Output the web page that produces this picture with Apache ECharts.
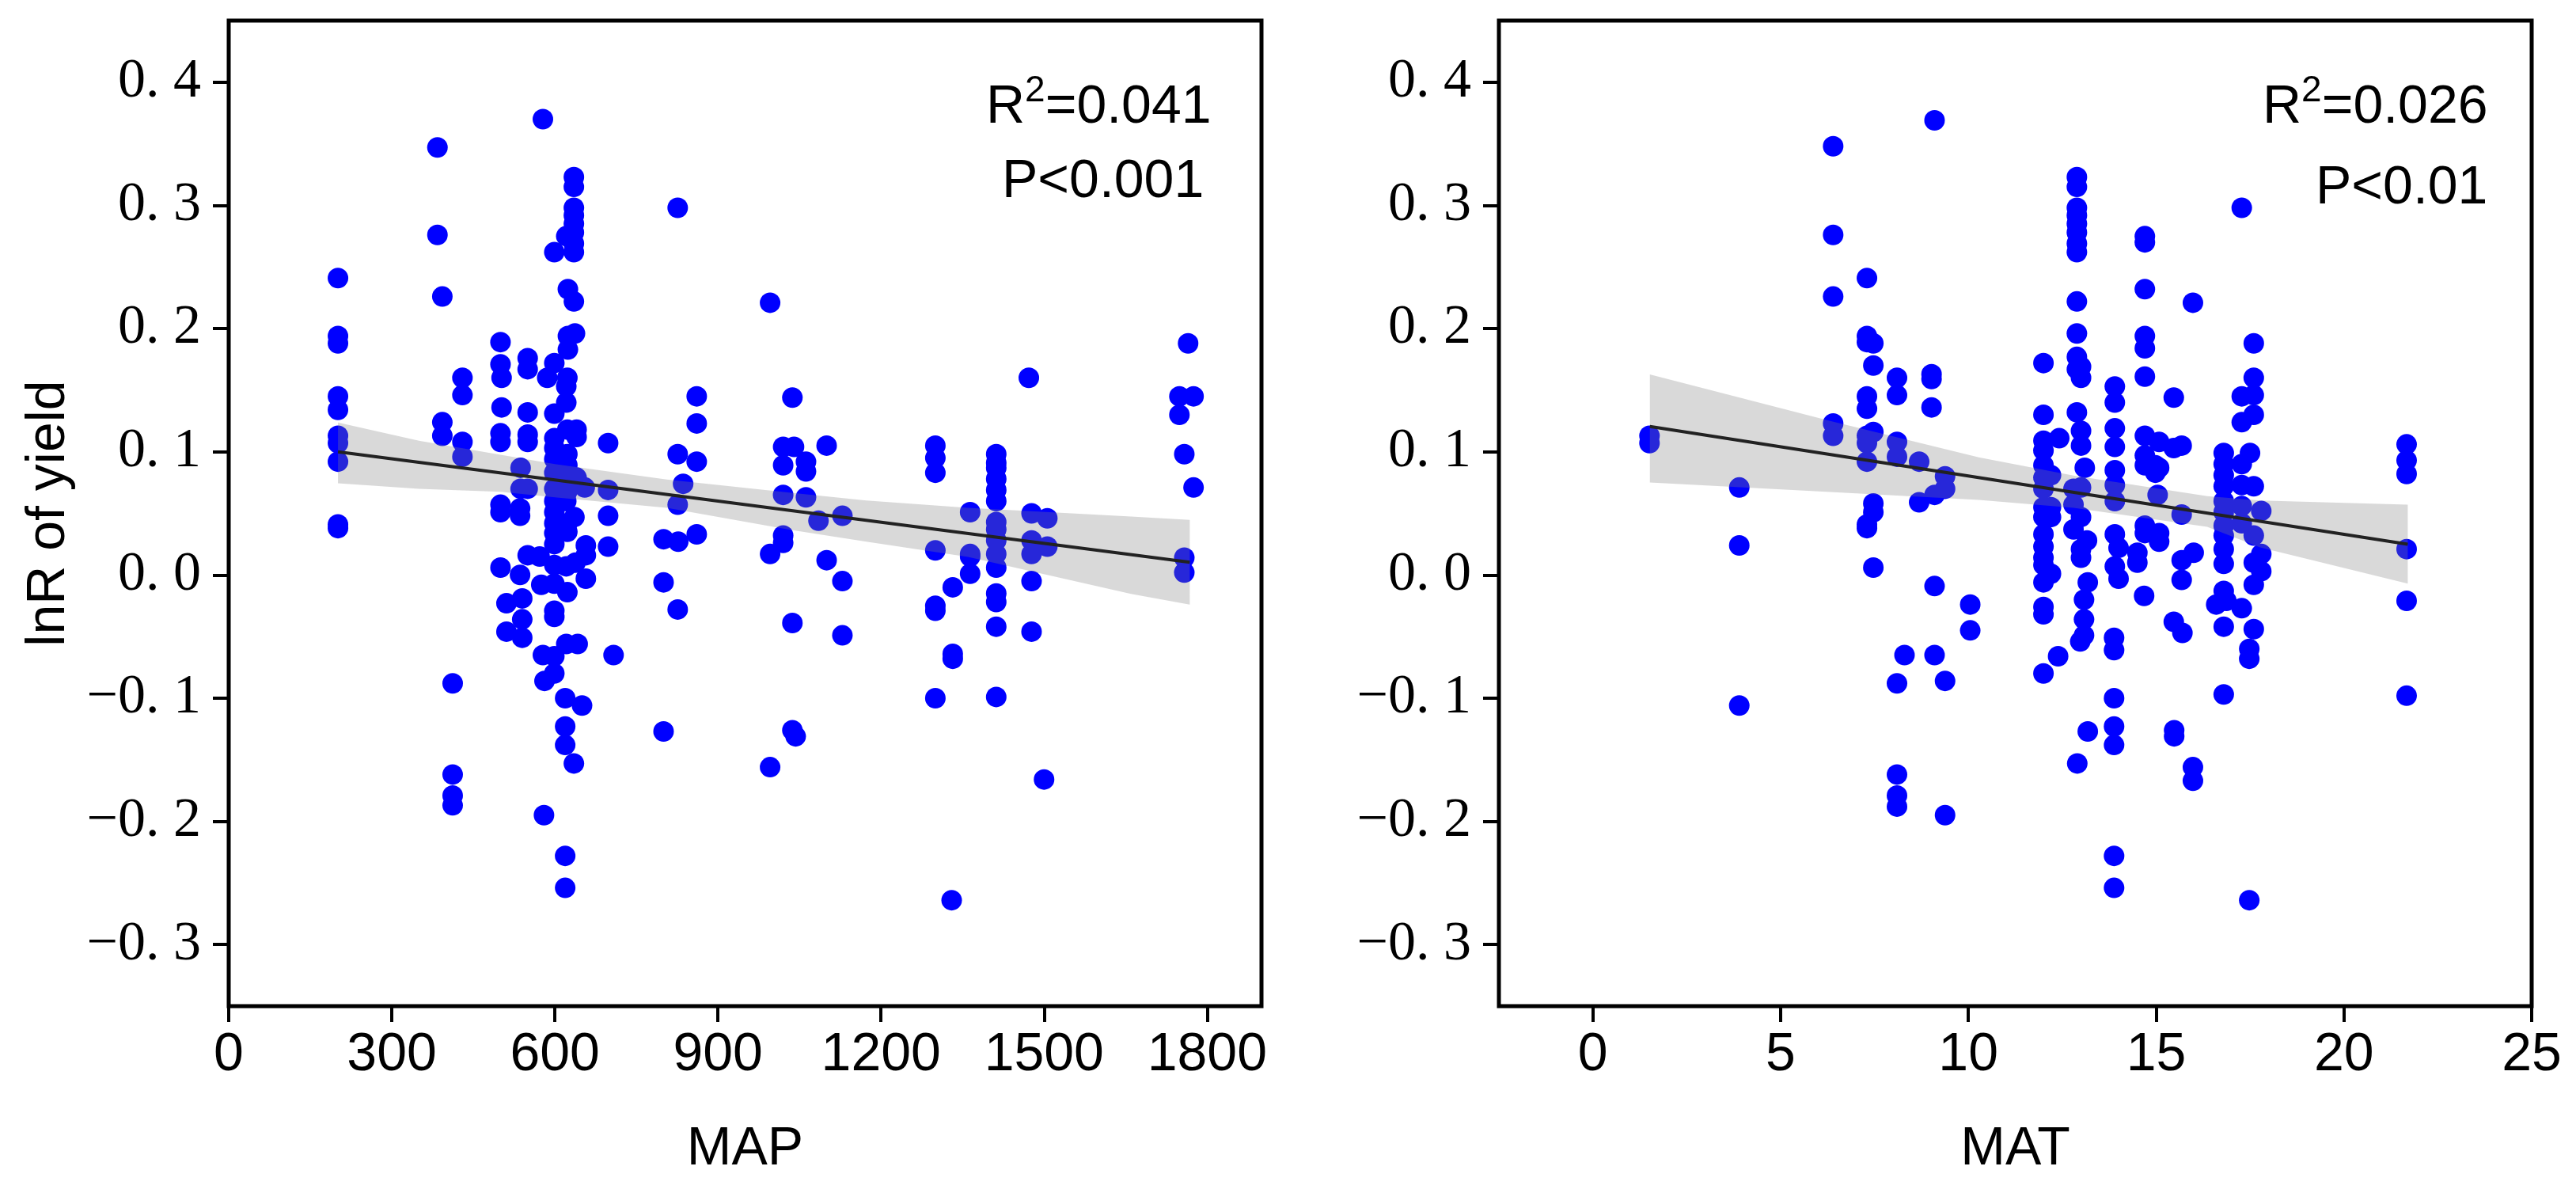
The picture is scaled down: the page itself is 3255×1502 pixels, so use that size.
<!DOCTYPE html>
<html>
<head>
<meta charset="utf-8">
<title>lnR of yield vs MAP and MAT</title>
<script src="https://cdn.jsdelivr.net/npm/echarts@6/dist/echarts.min.js"></script>
<style>
  html, body { margin: 0; padding: 0; background: #fff; }
  #chart { width: 3255px; height: 1502px; }
</style>
</head>
<body>
<div id="chart"></div>
<script>
// 刻度
var yTicks = [-0.3, -0.2, -0.1, 0, 0.1, 0.2, 0.3, 0.4];
var mapTicks = [0, 300, 600, 900, 1200, 1500, 1800];
var matTicks = [0, 5, 10, 15, 20, 25];

// MAP 散点 [x, lnR]
var mapPoints = [
  [201,.241],[201,.194],[201,.188],[201,.145],[201,.134],[201,.113],[201,.107],[201,.092],[201,.041],[201,.038],
  [384,.347],[384,.276],[393,.226],[393,.124],[393,.113],
  [412,-.088],[412,-.162],[412,-.179],[412,-.187],
  [430,.160],[430,.146],[430,.108],[430,.096],
  [500,.189],[500,.171],[500,.115],[500,.108],[500,.057],[500,.051],[500,.006],[502,.160],[502,.136],
  [511,-.023],[511,-.046],[540,-.019],[540,-.036],[540,-.051],
  [537,.087],[537,.070],[536,.054],[536,.048],[536,0],
  [550,.176],[550,.167],[550,.132],[550,.114],[550,.108],[550,.016],[550,.070],
  [572,.015],[575,-.008],[578,.370],[578,-.065],[581,-.086],[580,-.195],
  [586,.160],[599,.172],[599,.262],[599,.131],[599,.111],[599,.103],[599,.094],[599,.083],[599,.070],[599,.060],
  [599,.051],[599,.042],[599,.034],[599,.025],[599,.008],[599,-.007],[599,-.029],[599,-.034],[599,-.066],[599,-.080],
  [612,.066],[612,.080],[621,.275],[621,.153],[621,.140],[623,.160],[624,.232],[624,.194],[624,.183],
  [623,.118],[623,.098],[623,.089],[623,.068],[621,.060],[623,.042],[623,.035],[621,.007],
  [619,-.100],[619,-.123],[619,-.138],[619,-.228],[619,-.254],[621,-.056],[623,-.014],
  [635,.323],[635,.315],[635,.298],[635,.292],[635,.285],[635,.278],[635,.269],[635,.262],[635,.222],[637,.196],
  [635,-.153],[640,.118],[640,.112],[640,.079],[636,.047],[638,.010],
  [642,-.056],[650,-.106],[655,.071],[657,.024],[657,.016],[657,-.003],
  [698,.107],[698,.069],[698,.048],[698,.023],[708,-.065],
  [800,.029],[800,-.006],[800,-.127],[826,.298],[826,.098],[826,.057],[826,-.028],[827,.027],[836,.074],
  [861,.145],[861,.123],[861,.092],[861,.033],
  [996,.221],[996,.017],[996,-.156],[1020,.104],[1020,.089],[1020,.065],[1020,.032],[1020,.026],
  [1037,.144],[1037,-.039],[1037,-.126],[1043,-.131],[1040,.104],
  [1062,.092],[1062,.084],[1062,.063],[1085,.044],[1100,.105],[1100,.012],
  [1129,.048],[1129,-.005],[1129,-.049],
  [1300,.105],[1300,.095],[1300,.083],[1300,.020],[1300,-.025],[1300,-.029],[1300,-.100],
  [1332,-.010],[1332,-.064],[1332,-.068],[1330,-.264],
  [1364,.051],[1364,.017],[1364,.015],[1364,.001],
  [1412,.098],[1412,.091],[1412,.087],[1412,.078],[1412,.069],[1412,.060],[1412,.043],[1412,.037],[1412,.028],[1412,.017],[1412,.006],
  [1412,-.015],[1412,-.022],[1412,-.042],[1412,-.099],
  [1472,.160],[1477,.050],[1477,.028],[1477,.017],[1477,-.005],[1477,-.046],
  [1506,.046],[1506,.023],[1500,-.166],
  [1749,.145],[1749,.130],[1758,.098],[1758,.014],[1758,.002],[1775,.145],[1775,.071],[1765,.188]
];

// MAT 散点 [x, lnR]
var matPoints = [
  [1.51,.113],[1.51,.107],[3.9,.071],[3.9,.024],[3.9,-.106],
  [6.4,.348],[6.4,.276],[6.4,.226],[6.4,.123],[6.4,.113],
  [7.3,.241],[7.3,.194],[7.3,.189],[7.3,.145],[7.3,.135],[7.3,.113],[7.3,.107],[7.3,.092],[7.3,.041],[7.3,.038],
  [7.47,.188],[7.47,.170],[7.47,.116],[7.47,.058],[7.47,.051],[7.47,.006],
  [8.1,.160],[8.1,.146],[8.1,.108],[8.1,.096],[8.1,-.088],[8.1,-.162],[8.1,-.179],[8.1,-.188],[8.3,-.065],
  [8.69,.092],[8.69,.059],[9.02,.163],[9.02,.159],[9.02,.136],
  [9.1,.369],[9.1,.065],[9.1,-.009],[9.1,-.065],[9.38,.080],[9.38,.070],[9.38,-.086],[9.38,-.195],
  [10.05,-.024],[10.05,-.045],
  [12,.172],[12,.130],[12,.109],[12,.101],[12,.089],[12,.079],[12,.070],[12,.055],[12,.047],[12,.033],[12,.023],[12,.014],[12,.008],[12,-.006],[12,-.026],[12,-.032],[12,-.080],
  [12.42,.111],[12.2,.055],[12.2,.047],[12.2,.001],[12.2,.081],[12.39,-.066],
  [12.89,.323],[12.89,.315],[12.89,.298],[12.89,.292],[12.89,.285],[12.89,.278],[12.89,.269],[12.89,.262],[12.89,.222],[12.89,.196],
  [12.89,.177],[12.89,.167],[12.89,.132],[12.9,-.153],[12.8,.070],[12.8,.057],[12.8,.037],
  [13,.169],[13,.160],[13,.117],[13,.105],[13,.071],[13,.047],[13,.021],[13,.014],[12.98,-.054],
  [13.1,.087],[13.16,.028],[13.18,-.006],[13.08,-.020],[13.08,-.036],[13.08,-.049],[13.18,-.127],
  [13.9,.153],[13.9,.140],[13.9,.119],[13.9,.104],[13.9,.085],[13.9,.073],[13.9,.060],[13.9,.033],[13.9,.007],[14,.022],[14,-.003],
  [13.88,-.051],[13.88,-.061],[13.88,-.100],[13.88,-.123],[13.88,-.138],[13.88,-.228],[13.88,-.254],
  [14.5,.018],[14.5,.010],[14.68,-.017],
  [14.7,.275],[14.7,.270],[14.7,.232],[14.7,.194],[14.7,.184],[14.7,.161],[14.7,.113],[14.7,.097],[14.7,.089],[14.7,.040],[14.7,.034],
  [15.08,.108],[15.08,.087],[15.08,.034],[15.08,.027],[15.04,.065],[14.98,.089],[14.98,.083],
  [15.47,.144],[15.47,.103],[15.47,-.038],[15.48,-.126],[15.48,-.131],
  [15.68,.105],[15.68,.049],[15.68,.012],[15.68,-.004],[15.7,-.047],
  [16,.018],[15.98,.221],[15.98,-.156],[15.98,-.167],
  [16.8,.099],[16.8,.090],[16.8,.081],[16.8,.072],[16.8,.060],[16.8,.051],[16.8,.040],[16.8,.032],[16.8,.021],[16.8,.009],[16.8,-.013],[16.8,-.042],[16.8,-.097],
  [16.6,-.024],[16.87,-.021],
  [17.28,.298],[17.28,.145],[17.28,.124],[17.28,.090],[17.28,.073],[17.28,.056],[17.28,.042],[17.28,-.027],
  [17.5,.099],[17.48,-.060],[17.48,-.068],[17.48,-.264],
  [17.6,.188],[17.6,.160],[17.6,.146],[17.6,.130],[17.6,.072],[17.6,.032],[17.6,.010],[17.6,-.008],[17.6,-.044],
  [17.8,.052],[17.8,.017],[17.8,.003],
  [21.67,.106],[21.67,.093],[21.67,.082],[21.67,.021],[21.67,-.021],[21.67,-.098]
];

// 回归线与置信带
var mapFitX = [201, 1768];
var mapFitY = [0.100, 0.0103];
var mapBandX = [201, 350, 500, 600, 806, 1035, 1173, 1360, 1660, 1768];
var mapBandUpper = [.1237, .109, .0975, .090, .0775, .0667, .0605, .0545, .0475, .0447];
var mapBandLower = [.0744, .070, .0675, .063, .0545, .0365, .027, .0147, -.0154, -.024];

var matFitX = [1.52, 21.7];
var matFitY = [0.1205, 0.025];
var matBandX = [1.52, 6.32, 10.28, 12.8, 16.36, 17.77, 21.7];
var matBandUpper = [.1628, .125, .0955, .0807, .064, .0605, .057];
var matBandLower = [.075, .0673, .061, .0545, .039, .0224, -.007];

function yLabel(v) {
  return v.toFixed(1).replace('.', '. ').replace('-', '\u2212');
}

function xAxisOf(gridIndex, min, max, ticks, name) {
  return {
    type: 'value', gridIndex: gridIndex, min: min, max: max,
    name: name, nameLocation: 'middle', nameGap: 147,
    nameTextStyle: { fontFamily: 'Liberation Sans', fontSize: 68, color: '#000' },
    splitLine: { show: false },
    axisLine: { show: false, onZero: false },
    axisTick: { show: true, length: 20, customValues: ticks, lineStyle: { color: '#000', width: 4 } },
    axisLabel: { customValues: ticks, margin: 28, formatter: String, fontFamily: 'Liberation Sans', fontSize: 68, color: '#000' }
  };
}

function yAxisOf(gridIndex, name) {
  return {
    type: 'value', gridIndex: gridIndex, min: -0.35, max: 0.45,
    name: name, nameLocation: 'middle', nameGap: 193, nameRotate: 90,
    nameTextStyle: { fontFamily: 'Liberation Sans', fontSize: 68, color: '#000' },
    splitLine: { show: false },
    axisLine: { show: false, onZero: false },
    axisTick: { show: true, length: 20, customValues: yTicks, lineStyle: { color: '#000', width: 4 } },
    axisLabel: { customValues: yTicks, margin: 35, formatter: yLabel, fontFamily: 'Liberation Serif', fontSize: 70, color: '#000' }
  };
}

function scatterOf(index, points) {
  return {
    type: 'scatter', xAxisIndex: index, yAxisIndex: index, data: points,
    symbolSize: 26, itemStyle: { color: '#0000ff', opacity: 1 }, z: 2, silent: true
  };
}

function bandOf(index, xs, upper, lower) {
  return {
    type: 'custom', xAxisIndex: index, yAxisIndex: index, z: 3, silent: true,
    data: xs.map(function (x, i) { return [x, upper[i], lower[i]]; }),
    encode: { x: 0, y: [1, 2] },
    renderItem: function (params, api) {
      if (params.dataIndex !== 0) return;
      var top = xs.map(function (x, i) { return api.coord([x, upper[i]]); });
      var bottom = xs.map(function (x, i) { return api.coord([x, lower[i]]); }).reverse();
      return { type: 'polygon', shape: { points: top.concat(bottom) }, style: { fill: '#808080', opacity: 0.3 } };
    }
  };
}

function lineOf(index, xs, ys) {
  return {
    type: 'line', xAxisIndex: index, yAxisIndex: index, z: 4, silent: true,
    data: xs.map(function (x, i) { return [x, ys[i]]; }),
    symbol: 'none', lineStyle: { color: '#222', width: 4 }
  };
}

function noteOf(x, y, text) {
  return {
    type: 'text', x: x, y: y, z: 10,
    style: {
      text: text, fill: '#000', align: 'left', verticalAlign: 'top',
      rich: {
        r: { fontFamily: 'Liberation Sans', fontSize: 68, fill: '#000', lineHeight: 80 },
        s: { fontFamily: 'Liberation Sans', fontSize: 46, fill: '#000', verticalAlign: 'top', height: 38, lineHeight: 38 }
      }
    }
  };
}

var chart = echarts.init(document.getElementById('chart'));
chart.setOption({
  backgroundColor: '#fff',
  animation: false,
  grid: [
    { left: 289, top: 26, width: 1305, height: 1245, outerBoundsMode: 'none', show: true, borderColor: '#000', borderWidth: 5, backgroundColor: 'transparent' },
    { left: 1894, top: 26, width: 1305, height: 1245, outerBoundsMode: 'none', show: true, borderColor: '#000', borderWidth: 5, backgroundColor: 'transparent' }
  ],
  xAxis: [xAxisOf(0, 0, 1900, mapTicks, 'MAP'), xAxisOf(1, -2.5, 25, matTicks, 'MAT')],
  yAxis: [yAxisOf(0, 'lnR of yield'), yAxisOf(1, '')],
  series: [
    scatterOf(0, mapPoints), bandOf(0, mapBandX, mapBandUpper, mapBandLower), lineOf(0, mapFitX, mapFitY),
    scatterOf(1, matPoints), bandOf(1, matBandX, matBandUpper, matBandLower), lineOf(1, matFitX, matFitY)
  ],
  graphic: [
    noteOf(1246, 96, '{r|R}{s|2}{r|=0.041}'),
    noteOf(1266, 190, '{r|P<0.001}'),
    noteOf(2859, 96, '{r|R}{s|2}{r|=0.026}'),
    noteOf(2926, 198, '{r|P<0.01}')
  ]
});
</script>
</body>
</html>
